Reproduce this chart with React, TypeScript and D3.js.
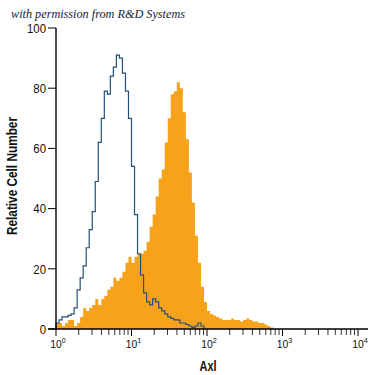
import React from "react";
import * as d3 from "d3";

// Histogram bins: log10 width of each bin (decades), starting at 10^0
const BIN_DECADES = 0.04;

// Isotype control (outline, blue)
const isotypeCounts = [
  2, 3, 4, 4, 4.5, 5, 7, 13, 17, 21,
  27, 33, 39, 49, 62, 70, 79, 78, 84, 87,
  91, 90, 85, 79, 70, 54, 38, 25, 18, 12,
  9, 8, 10, 9, 7, 6, 5, 4, 3.5, 3,
  3, 2, 2, 1.5, 1, 0.5, 1, 2, 1,
];

// Axl stained cells (filled, orange)
const axlCounts = [
  2, 2, 1, 2, 3, 3, 1, 2, 4, 7,
  6, 7, 8, 10, 8, 10, 11, 13, 14, 17,
  16, 17, 19, 22, 24, 22, 24, 25, 25, 26,
  29, 34, 38, 44, 50, 53, 62, 70, 78, 79,
  82, 80, 72, 63, 52, 42, 31, 22, 14, 9,
  6, 5, 4.5, 4, 3.5, 3, 3, 3, 3.5, 3,
  3, 2.5, 3, 3.5, 3, 2.5, 2.5, 2, 2, 1.5,
  1, 0.5,
];

const yTicks = [0, 20, 40, 60, 80, 100];
const xDecades = [0, 1, 2, 3, 4];
const minorMultipliers = [2, 3, 4, 5, 6, 7, 8, 9];

const title = "with permission from R&D Systems";
const yLabel = "Relative Cell Number";
const xLabel = "Axl";

const W = 375;
const H = 375;

export default function App() {
  const x = d3.scaleLog().domain([1, 10000]).range([56, 358]);
  const y = d3.scaleLinear().domain([0, 100]).range([329, 28]);

  const toPoints = (counts: number[]) => {
    const pts: [number, number][] = [[0, 0]];
    counts.forEach((v, i) => pts.push([i * BIN_DECADES, v]));
    pts.push([counts.length * BIN_DECADES, 0]);
    return pts;
  };

  const area = d3
    .area<[number, number]>()
    .x((d) => x(Math.pow(10, d[0])))
    .y0(y(0))
    .y1((d) => y(d[1]))
    .curve(d3.curveStepAfter);

  const line = d3
    .line<[number, number]>()
    .x((d) => x(Math.pow(10, d[0])))
    .y((d) => y(d[1]))
    .curve(d3.curveStepAfter);

  const font = "'Liberation Sans', Arial, sans-serif";

  const minorTicks: number[] = [];
  xDecades.slice(0, -1).forEach((dec) =>
    minorMultipliers.forEach((m) => minorTicks.push(m * Math.pow(10, dec)))
  );

  return (
    <svg
      width={W}
      height={H}
      style={{ position: "absolute", left: 0, top: 0, background: "#fff" }}
    >
      <rect width={W} height={H} fill="#fff" />
      <text
        x={11}
        y={17.5}
        fontFamily="'Liberation Serif', 'DejaVu Serif', serif"
        fontStyle="italic"
        fontSize={12.5}
        fill="#141a38"
        textLength={174}
        lengthAdjust="spacingAndGlyphs"
      >
        {title}
      </text>

      {/* histograms */}
      <path d={area(toPoints(axlCounts)) || ""} fill="#f7a21b" />
      <path
        d={line(toPoints(isotypeCounts)) || ""}
        fill="none"
        stroke="#24507a"
        strokeWidth={1.2}
      />

      {/* axes */}
      <line x1={56} x2={56} y1={28} y2={329} stroke="#000" strokeWidth={1.4} />
      <line x1={48} x2={368} y1={329} y2={329} stroke="#000" strokeWidth={1.4} />

      {yTicks.map((t) => (
        <g key={t}>
          <line x1={48} x2={56} y1={y(t)} y2={y(t)} stroke="#000" strokeWidth={1} />
          <g transform={`translate(46,${y(t) + 4.7}) scale(0.88,1)`}>
            <text
              x={0}
              y={0}
              textAnchor="end"
              fontFamily={font}
              fontSize={13}
              fill="#111"
            >
              {t}
            </text>
          </g>
        </g>
      ))}

      {xDecades.map((dec) => (
        <g key={dec}>
          <line
            x1={x(Math.pow(10, dec))}
            x2={x(Math.pow(10, dec))}
            y1={329}
            y2={336}
            stroke="#000"
            strokeWidth={1}
          />
          <g transform={`translate(${x(Math.pow(10, dec)) + 2},348) scale(0.9,1)`}>
            <text
              x={0}
              y={0}
              textAnchor="middle"
              fontFamily={font}
              fontSize={11.5}
              fill="#111"
            >
              10
              <tspan dy={-5} fontSize={8}>
                {dec}
              </tspan>
            </text>
          </g>
        </g>
      ))}
      {minorTicks.map((v) => (
        <line
          key={v}
          x1={x(v)}
          x2={x(v)}
          y1={329}
          y2={335}
          stroke="#000"
          strokeWidth={0.8}
        />
      ))}

      <text
        x={208}
        y={371}
        textAnchor="middle"
        fontFamily={font}
        fontWeight="bold"
        fontSize={15}
        fill="#111"
        textLength={17}
        lengthAdjust="spacingAndGlyphs"
      >
        {xLabel}
      </text>
      <text
        transform={`translate(17,176) rotate(-90)`}
        textAnchor="middle"
        fontFamily={font}
        fontWeight="bold"
        fontSize={14}
        fill="#111"
        textLength={118}
        lengthAdjust="spacingAndGlyphs"
      >
        {yLabel}
      </text>
    </svg>
  );
}
